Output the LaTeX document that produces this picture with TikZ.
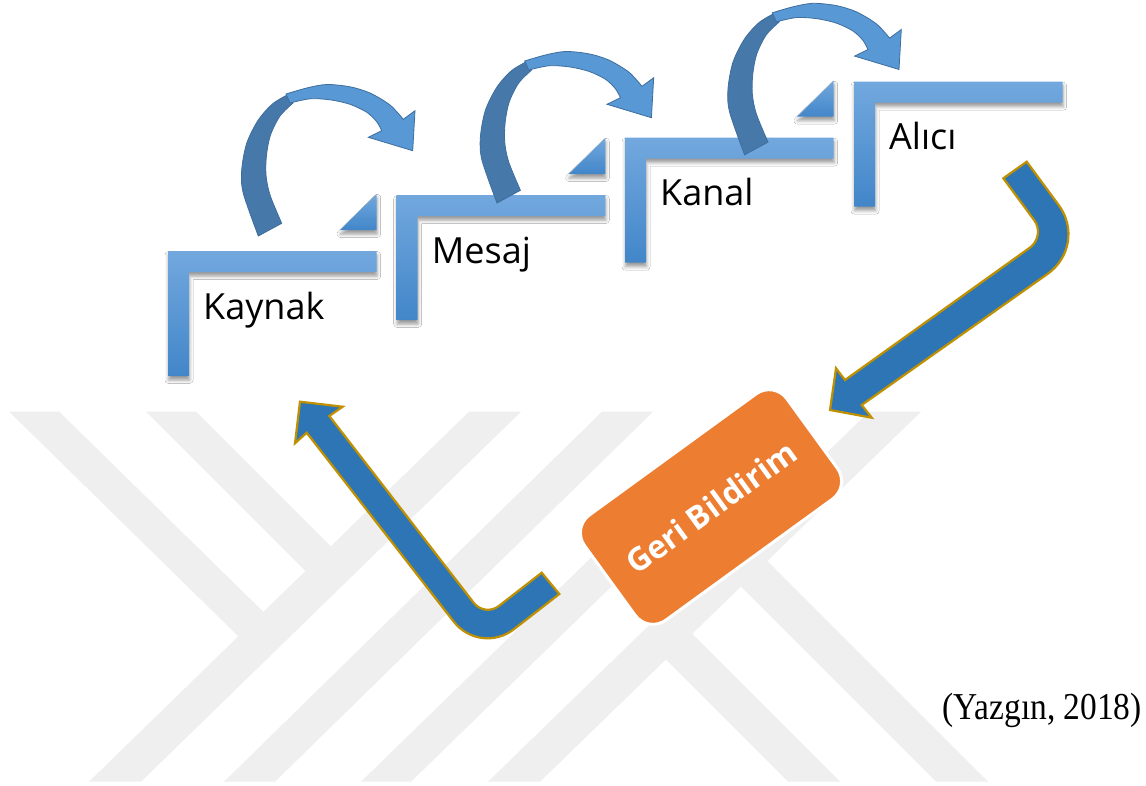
\documentclass[tikz,border=0pt]{standalone}
\usepackage{fontspec}
\setmainfont{Open Sans}
\newfontfamily\citefont{Liberation Serif}
\usetikzlibrary{calc,shadows.blur}

\definecolor{barlight}{RGB}{114,168,222}
\definecolor{bardark}{RGB}{66,134,201}
\definecolor{curvelight}{RGB}{88,152,212}
\definecolor{curvedark}{RGB}{70,121,170}
\definecolor{curveedge}{RGB}{62,110,158}
\definecolor{loopblue}{RGB}{46,117,182}
\definecolor{loopgold}{RGB}{191,144,0}
\definecolor{feedorange}{RGB}{237,125,49}
\definecolor{markgray}{RGB}{239,239,239}

\tikzset{
  stepbar/.style={top color=barlight, bottom color=bardark, draw=none,
    blur shadow={shadow xshift=0.5pt, shadow yshift=-4pt,
                 shadow blur radius=3.5pt, shadow opacity=40}},
  steplabel/.style={anchor=base west, inner sep=0pt, text=black,
    font=\fontsize{36}{40}\selectfont},
  loopshape/.style={fill=loopblue, draw=loopgold, line width=2.2pt, line join=miter},
  feedbox/.style={fill=feedorange, draw=white, line width=3pt,
    rounded corners=22pt, minimum width=250pt, minimum height=130pt,
    text=white, font=\bfseries\fontsize{32}{36}\selectfont, inner sep=0pt},
  % L-shaped step frame, origin at its outer corner
  stepframe/.pic={
    \path[stepbar] (0,0) -- (208.7,0) -- (208.7,21) -- (21,21) -- (21,125)
      -- (0,125) -- cycle;
  },
  % small corner wedge above the right end of a step
  stepwedge/.pic={
    \path[stepbar] (208.7,-57) -- (208.7,-21) -- (172,-21) -- cycle;
  },
  % curved hop arrow, origin at the outer tail corner
  hoparrow/.pic={
    \path[fill=curvedark, draw=curveedge, line width=0.8pt]
      plot[smooth] coordinates {(0,0) (-15,-42.7) (-16.6,-66) (-11.6,-92.7)
        (0,-116) (15,-132.7) (33.7,-143.5)}
      -- plot[smooth] coordinates {(34.7,-133) (21.7,-120) (12.2,-101)
        (8.2,-81) (7.7,-61) (11.7,-41) (23.4,-12.7)}
      -- cycle;
    \path[fill=curvelight, draw=curveedge, line width=0.8pt]
      plot[smooth] coordinates {(27.7,-142) (48.4,-148) (68.4,-151.5)
        (91.7,-149.2) (111.7,-143) (131.7,-131) (145,-116.7)}
      -- (156.7,-125.3) -- (154.4,-85.3) -- (110,-98.7) -- (123.4,-105.3)
      -- plot[smooth] coordinates {(123.4,-105.3) (118.4,-114.3) (108.4,-123.8)
        (91.7,-131.7) (71.7,-136.2) (51.7,-137.2) (31.7,-133)}
      -- cycle;
  }
}

\begin{document}
\begin{tikzpicture}[x=1pt,y=-1pt]
\useasboundingbox (0,0) rectangle (1146,785);
\fill[white] (0,0) rectangle (1146,785);

% faint background emblem
\begin{scope}
  \clip (0,411.7) rectangle (1146,781.7);
  \fill[markgray] (89,781.7) -- (141,781.7) -- (521,411.7) -- (469,411.7) -- cycle;
  \fill[markgray] (224,781.7) -- (275,781.7) -- (653,411.7) -- (602,411.7) -- cycle;
  \fill[markgray] (361,781.7) -- (411,781.7) -- (791,411.7) -- (741,411.7) -- cycle;
  \fill[markgray] (488,781.7) -- (540,781.7) -- (921,411.7) -- (869,411.7) -- cycle;
  \fill[markgray] (9.2,411.7) -- (59.2,411.7) -- (276.4,624.6) -- (251.3,649) -- cycle;
  \fill[markgray] (146.1,411.7) -- (196.1,411.7) -- (343.5,559.2) -- (318.2,583.8) -- cycle;
  \fill[markgray] (788,781.7) -- (840,781.7) -- (679.4,621.1) -- (653,646.7) -- cycle;
  \fill[markgray] (936,781.7) -- (988,781.7) -- (754.5,548.2) -- (728.1,573.8) -- cycle;
\end{scope}

% step frames
\coordinate (b1) at (168,251);
\coordinate (b2) at (396.7,195);
\coordinate (b3) at (625,137.7);
\coordinate (b4) at (854,81.7);
\pic at (b1) {stepframe};
\pic at (b2) {stepframe};
\pic at (b3) {stepframe};
\pic at (b4) {stepframe};
\pic at (b1) {stepwedge};
\pic at (b2) {stepwedge};
\pic at (b3) {stepwedge};

% hop arrows between the steps
\coordinate (h1) at (258.3,236);
\coordinate (h2) at (497,203);
\coordinate (h3) at (744.6,154.8);
\pic at (h1) {hoparrow};
\pic at (h2) {hoparrow};
\pic at (h3) {hoparrow};

% step labels
\node[steplabel] (kaynak) at ($(b1)+(35,68)$) {Kaynak};
\node[steplabel] (mesaj) at ($(b2)+(35,68)$) {Mesaj};
\node[steplabel] (kanal) at ($(b3)+(35,68)$) {Kanal};
\node[steplabel] (alici) at ($(b4)+(35,68)$) {Alıcı};

% feedback box
\node[feedbox, rotate=36] (geri) at (711,507) {Geri Bildirim};

% bent arrow from the receiver down to the feedback box
\coordinate (rA) at (1003.3,178.3);
\coordinate (rB) at (1026.7,161.7);
\coordinate (rCo) at (1088.3,245.2);
\coordinate (rCi) at (1046,236.1);
\coordinate (rNo) at (861.7,405);
\coordinate (rBo) at (871.7,417.7);
\coordinate (rTip) at (830,410);
\coordinate (rBi) at (836,368.3);
\coordinate (rNi) at (845,380);
\path[loopshape] (rB) -- ($(rCo)!50pt!(rB)$)
  .. controls ($(rCo)!22pt!(rB)$) and ($(rCo)!22pt!(rNo)$) .. ($(rCo)!50pt!(rNo)$)
  -- (rNo) -- (rBo) -- (rTip) -- (rBi) -- (rNi)
  -- ($(rCi)!20pt!(rNi)$)
  .. controls ($(rCi)!9pt!(rNi)$) and ($(rCi)!9pt!(rA)$) .. ($(rCi)!20pt!(rA)$)
  -- (rA) -- cycle;

% bent arrow from the feedback box back up to the source
\coordinate (lP) at (541.7,572.7);
\coordinate (lQ) at (559.3,594);
\coordinate (lCi) at (484.7,617);
\coordinate (lCo) at (480.1,655.5);
\coordinate (lNi) at (329.3,416);
\coordinate (lBi) at (342.7,406.7);
\coordinate (lTip) at (300,401.7);
\coordinate (lBo) at (295,443.3);
\coordinate (lNo) at (306.7,432.7);
\path[loopshape] (lP) -- ($(lCi)!18pt!(lP)$)
  .. controls ($(lCi)!8pt!(lP)$) and ($(lCi)!8pt!(lNi)$) .. ($(lCi)!18pt!(lNi)$)
  -- (lNi) -- (lBi) -- (lTip) -- (lBo) -- (lNo)
  -- ($(lCo)!43pt!(lNo)$)
  .. controls ($(lCo)!19pt!(lNo)$) and ($(lCo)!19pt!(lQ)$) .. ($(lCo)!43pt!(lQ)$)
  -- (lQ) -- cycle;

% source note
\node[anchor=base east, inner sep=0pt] (cite) at (1142,719.3)
  {\scalebox{0.88}[1]{\citefont\fontsize{38}{42}\selectfont (Yazgın, 2018)}};
\end{tikzpicture}
\end{document}
